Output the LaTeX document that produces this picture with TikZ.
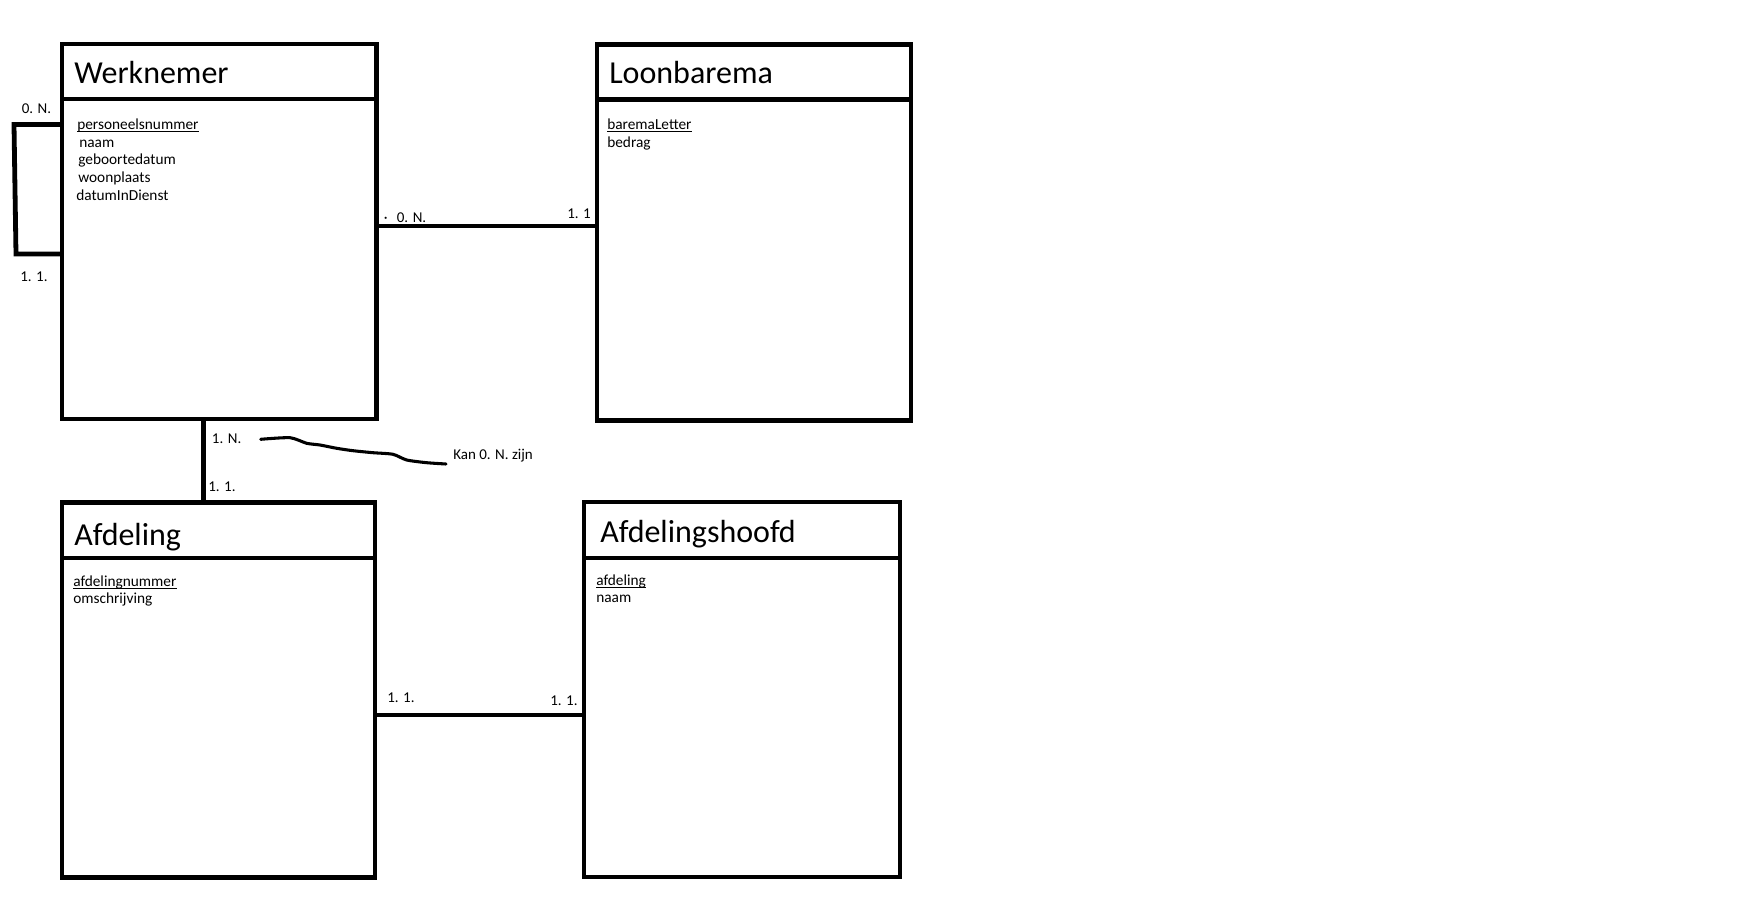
\documentclass[tikz,border=0pt]{standalone}
\usepackage{fontspec}
\setmainfont{Carlito}

\tikzset{
	entity/.style={draw, line width=3.6pt, minimum width=236pt, minimum height=281.25pt, inner sep=0pt, outer sep=0pt, anchor=north west},
	divider/.style={line width=3.6pt},
	link/.style={line width=3.6pt},
	title/.style={anchor=base west, inner sep=0pt, font=\fontsize{24}{28}\selectfont},
	attr/.style={anchor=base west, inner sep=0pt, font=\fontsize{11.5}{13}\selectfont},
	card/.style={anchor=base west, inner sep=0pt, font=\fontsize{11.25}{13}\selectfont},
	keyline/.style={line width=0.9pt},
	scribble/.style={line width=2.3pt, line cap=round, line join=round},
}

\begin{document}
\begin{tikzpicture}[x=0.75pt,y=-0.75pt]
	\useasboundingbox (0,0) rectangle (1763,902);

	% entiteiten
	\node[entity] (werknemer) at (62,44) {};
	\node[entity, minimum width=235.5pt, minimum height=282pt] (loonbarema) at (597,44.7) {};
	\node[entity, minimum width=234.75pt] (afdeling) at (62,502.5) {};
	\node[entity, minimum width=237pt] (afdelingshoofd) at (584,502) {};

	\draw[divider] (werknemer.west |- 0,99) -- (werknemer.east |- 0,99);
	\draw[divider] (loonbarema.west |- 0,99.5) -- (loonbarema.east |- 0,99.5);
	\draw[divider] (afdeling.west |- 0,558) -- (afdeling.east |- 0,558);
	\draw[divider] (afdelingshoofd.west |- 0,558) -- (afdelingshoofd.east |- 0,558);

	\node[title] (werknemer-title) at (74,84) {Werknemer};
	\node[title] (loonbarema-title) at (609,84) {Loonbarema};
	\node[title] (afdeling-title) at (74,545) {Afdeling};
	\node[title] (afdelingshoofd-title) at (600,542) {Afdelingshoofd};

	% attributen
	\node[attr] (personeelsnummer) at (77,129.7) {personeelsnummer};
	\draw[keyline] ([yshift=-1.5pt]personeelsnummer.base west) -- ([yshift=-1.5pt]personeelsnummer.base east);
	\foreach \attr/\x/\y in {naam/79/147.2, geboortedatum/78/164.2, woonplaats/78/182.2, datumInDienst/76/200.5} {
		\node[attr] (wn-\attr) at (\x,\y) {\attr};
	}

	\node[attr] (baremaLetter) at (607,129.7) {baremaLetter};
	\draw[keyline] ([yshift=-1.5pt]baremaLetter.base west) -- ([yshift=-1.5pt]baremaLetter.base east);
	\node[attr] (lb-bedrag) at (607,147.2) {bedrag};

	\node[attr] (afdelingnummer) at (73,586.2) {afdelingnummer};
	\draw[keyline] ([yshift=-1.5pt]afdelingnummer.base west) -- ([yshift=-1.5pt]afdelingnummer.base east);
	\node[attr] (af-omschrijving) at (73,603.7) {omschrijving};

	\node[attr] (ah-afdeling) at (596,585.2) {afdeling};
	\draw[keyline] ([yshift=-1.5pt]ah-afdeling.base west) -- ([yshift=-1.5pt]ah-afdeling.base east);
	\node[attr] (ah-naam) at (596,602.7) {naam};

	% relaties
	\coordinate (loop-top) at (14,124.5);
	\coordinate (loop-bottom) at (16,254);
	\draw[link] (werknemer.west |- loop-top) -- (loop-top) -- (loop-bottom) -- (werknemer.west |- loop-bottom);

	\coordinate (loon-link) at (0,226);
	\draw[link] (werknemer.east |- loon-link) -- (loonbarema.west |- loon-link);

	\coordinate (afd-link) at (203.5,0);
	\draw[link] (werknemer.south -| afd-link) -- (afdeling.north -| afd-link);

	\coordinate (hoofd-link) at (0,715);
	\draw[link] (afdeling.east |- hoofd-link) -- (afdelingshoofd.west |- hoofd-link);

	% kardinaliteiten
	\node[card] (loop-0n) at (21.5,113.3) {0. N.};
	\node[card] (loop-11) at (20,281.7) {1. 1.};
	\node[card] (wn-0n) at (383.5,222.2) {·\hspace{7pt}0. N.};
	\node[card] (lb-11) at (567,218.9) {1. 1};
	\node[card] (wn-1n) at (211.7,443) {1. N.};
	\node[card] (af-11) at (208,491.7) {1. 1.};
	\node[card] (af-hoofd-11) at (387,702) {1. 1.};
	\node[card] (ah-11) at (550,705) {1. 1.};

	% opmerking
	\node[card] (note) at (453,459) {Kan 0. N. zijn};
	\draw[scribble] plot[smooth, tension=0.4] coordinates {(260.7,439.3) (290,437.7) (306.7,443.3) (320,445) (336.7,448.3) (353,450.7) (373,452.7) (393,454.3) (406.7,460) (426.7,462.7) (446,464)};
\end{tikzpicture}
\end{document}
